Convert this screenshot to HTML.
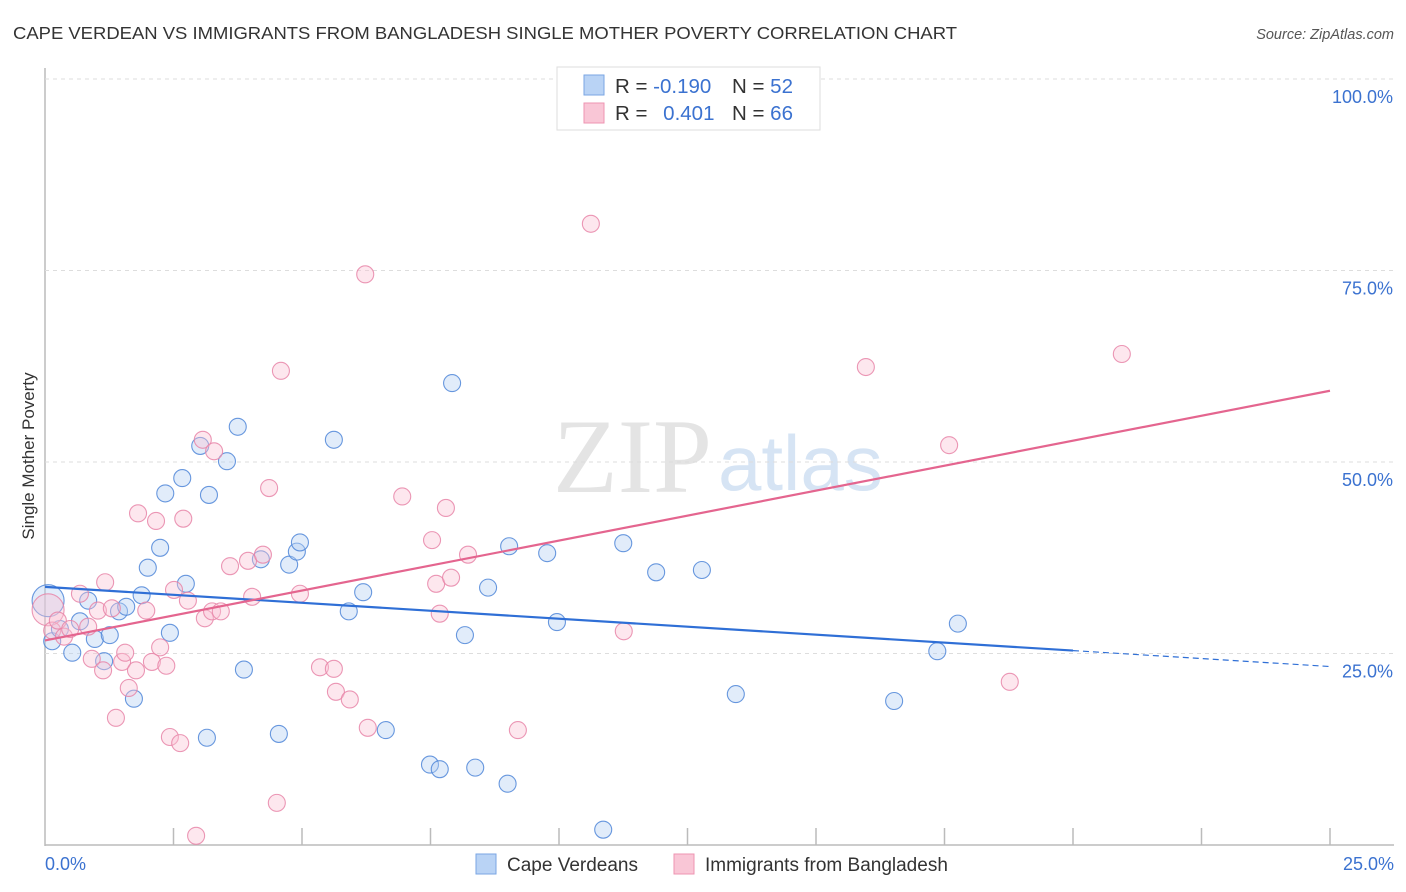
<!DOCTYPE html>
<html><head><meta charset="utf-8"><style>
body{margin:0;background:#fff;font-family:"Liberation Sans",sans-serif;}
#wrap{position:relative;width:1406px;height:892px;overflow:hidden;}
</style></head><body>
<div id="wrap">
<svg id="svg" width="1406" height="892" xmlns="http://www.w3.org/2000/svg">
<text x="13" y="39" font-size="17.5" fill="#333" textLength="944" lengthAdjust="spacingAndGlyphs">CAPE VERDEAN VS IMMIGRANTS FROM BANGLADESH SINGLE MOTHER POVERTY CORRELATION CHART</text>
<text x="1394" y="39" font-size="14.5" fill="#555" font-style="italic" text-anchor="end">Source: ZipAtlas.com</text>
<text x="34" y="456" font-size="17" fill="#333" text-anchor="middle" transform="rotate(-90 34 456)">Single Mother Poverty</text>
<text x="553" y="492" font-size="106" fill="#e4e4e4" font-family="Liberation Serif,serif">ZIP</text>
<text x="718" y="490" font-size="78" fill="#d6e4f4">atlas</text>
<g id="grid"></g><g id="pts"></g><g id="lines"></g>
<g>
<rect x="557" y="67" width="263" height="63" fill="#fff" stroke="#ddd"/>
<rect x="584" y="75" width="20" height="20" fill="#b9d3f5" stroke="#7aa6e3"/>
<rect x="584" y="103" width="20" height="20" fill="#f9c6d6" stroke="#ee94b2"/>
<text x="615" y="93" font-size="20.5" fill="#333">R = <tspan fill="#3b72d0">-0.190</tspan></text>
<text x="732" y="93" font-size="20.5" fill="#333">N = <tspan fill="#3b72d0">52</tspan></text>
<text x="615" y="120" font-size="20.5" fill="#333">R = <tspan fill="#3b72d0" dx="10">0.401</tspan></text>
<text x="732" y="120" font-size="20.5" fill="#333">N = <tspan fill="#3b72d0">66</tspan></text>
</g>
<g>
<rect x="476" y="854" width="20" height="20" fill="#b9d3f5" stroke="#7aa6e3"/>
<text x="507" y="871" font-size="19" fill="#333">Cape Verdeans</text>
<rect x="674" y="854" width="20" height="20" fill="#f9c6d6" stroke="#ee94b2"/>
<text x="705" y="871" font-size="19" fill="#333">Immigrants from Bangladesh</text>
</g>
<text x="45" y="870" font-size="18" fill="#3b72d0">0.0%</text>
<text x="1394" y="870" font-size="18" fill="#3b72d0" text-anchor="end">25.0%</text>
</svg></div>
<script>
const yTicks=[25,50,75,100];
const yTickLabels=["25.0%","50.0%","75.0%","100.0%"];
const blueX=[0.06,0.14,0.29,0.53,0.84,0.68,0.97,1.15,1.26,1.44,1.58,1.73,1.88,2.0,2.24,2.34,2.43,2.67,2.74,3.02,3.15,3.19,3.54,3.75,3.87,4.2,4.55,4.75,4.9,4.96,5.62,5.91,6.19,6.63,7.49,7.68,7.92,8.17,8.37,8.62,9.0,9.03,9.77,9.96,10.86,11.25,11.89,12.78,13.44,16.52,17.36,17.76];
const blueY=[31.9,26.6,28.2,25.1,31.9,29.2,26.9,24.0,27.4,30.5,31.1,19.1,32.6,36.2,38.8,45.9,27.7,47.9,34.1,52.1,14.0,45.7,50.1,54.6,22.9,37.3,14.5,36.6,38.3,39.5,52.9,30.5,33.0,15.0,10.5,9.9,60.3,27.4,10.1,33.6,8.0,39.0,38.1,29.1,2.0,39.4,35.6,35.9,19.7,18.8,25.3,28.9];
const pinkX=[0.06,0.14,0.25,0.37,0.49,0.68,0.84,0.91,1.03,1.13,1.17,1.3,1.38,1.5,1.56,1.63,1.77,1.81,1.97,2.08,2.16,2.24,2.36,2.43,2.51,2.63,2.69,2.78,2.94,3.07,3.11,3.25,3.29,3.42,3.6,3.95,4.03,4.24,4.36,4.51,4.59,4.96,5.35,5.62,5.66,5.93,6.23,6.28,6.95,7.53,7.61,7.68,7.8,7.9,8.23,9.2,10.62,11.26,15.97,17.59,18.77,20.95];
const pinkY=[30.7,28.0,29.3,27.2,28.2,32.8,28.5,24.3,30.6,22.8,34.3,30.9,16.6,23.9,25.1,20.5,22.8,43.3,30.6,23.9,42.3,25.8,23.4,14.1,33.3,13.3,42.6,31.9,1.2,52.9,29.6,30.5,51.4,30.5,36.4,37.1,32.4,37.9,46.6,5.5,61.9,32.8,23.2,23.0,20.0,19.0,74.5,15.3,45.5,39.8,34.1,30.2,44.0,34.9,37.9,15.0,81.1,27.9,62.4,52.2,21.3,64.1];
const blueTrend=[33.7,23.3];
const pinkTrend=[26.7,59.3];
const X=v=>45+v/25*1285, Y=v=>845-v/100*766;
const NS="http://www.w3.org/2000/svg";
function mk(tag,attrs,parent){const e=document.createElementNS(NS,tag);for(const k in attrs)e.setAttribute(k,attrs[k]);document.getElementById(parent).appendChild(e);return e;}
const ax=mk('line',{x1:45,y1:68,x2:45,y2:846,stroke:'#bbb','stroke-width':1.5},'grid');


const bx=mk('line',{x1:45,y1:845,x2:1394,y2:845,stroke:'#bbb','stroke-width':1.5},'grid');


yTicks.forEach((t,i)=>{
 const g=mk('line',{x1:45,y1:Y(t),x2:1394,y2:Y(t),stroke:'#ddd','stroke-dasharray':'4,4'},'grid');
 
 
 const l=mk('text',{x:1393,y:Y(t)+24,'font-size':18,fill:'#3b72d0','text-anchor':'end'},'grid');
 l.textContent=yTickLabels[i];
 
 
});
for(let i=1;i<=10;i++){const x=X(i*2.5);
 const t=mk('line',{x1:x,y1:828,x2:x,y2:845,stroke:'#bbb','stroke-width':1.5},'grid');
 
 }
function dots(xs,ys,fill,stroke,name){xs.forEach((v,i)=>{
 const r=(i===0)?16:8.5;
 const c=mk('circle',{cx:X(v),cy:Y(ys[i]),r:r,fill:fill,'fill-opacity':0.4,stroke:stroke,'stroke-width':1.1,'stroke-opacity':0.85},'pts');
 
 });}
dots(blueX,blueY,'#b4cff2','#4f86d8','point-cape-verdean');
dots(pinkX,pinkY,'#f9c4d5','#e885a8','point-bangladesh');
const bl=mk('line',{x1:X(0),y1:Y(blueTrend[0]),x2:X(20),y2:Y(blueTrend[0]+(blueTrend[1]-blueTrend[0])*0.8),stroke:'#2f6fd6','stroke-width':2.2},'lines');


const bd=mk('line',{x1:X(20),y1:Y(blueTrend[0]+(blueTrend[1]-blueTrend[0])*0.8),x2:X(25),y2:Y(blueTrend[1]),stroke:'#2f6fd6','stroke-width':1.2,'stroke-dasharray':'6,4'},'lines');


const pl=mk('line',{x1:X(0),y1:Y(pinkTrend[0]),x2:X(25),y2:Y(pinkTrend[1]),stroke:'#e4658f','stroke-width':2.2},'lines');


</script>
</body></html>
